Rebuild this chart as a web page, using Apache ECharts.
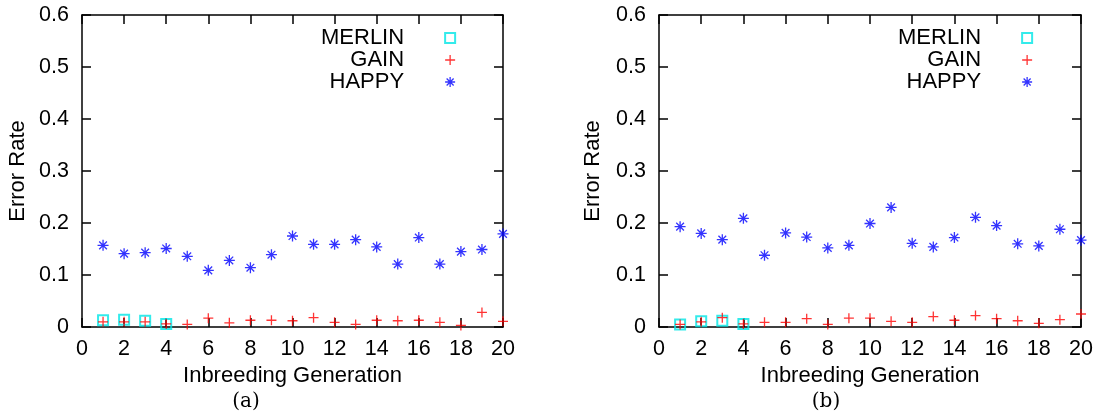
<!DOCTYPE html>
<html>
<head>
    <meta charset="utf-8">
    <title>Error Rate</title>
    <script src="https://cdn.jsdelivr.net/npm/echarts@6/dist/echarts.min.js"></script>
</head>
<body style="margin:0;background:#fff">
    <div id="main" style="width: 1099px;height:415px;"></div>
<script type="text/javascript">
    // generations 1..20
    var generations = [1, 2, 3, 4, 5, 6, 7, 8, 9, 10, 11, 12, 13, 14, 15, 16, 17, 18, 19, 20];
    var xTicks = [0, 2, 4, 6, 8, 10, 12, 14, 16, 18, 20];
    var yTicks = [0, 0.1, 0.2, 0.3, 0.4, 0.5, 0.6];

    // panel (a)
    var merlinA = [0.013, 0.014, 0.012, 0.006];
    var gainA = [0.010, 0.010, 0.010, 0.006, 0.005, 0.017, 0.008, 0.013, 0.013, 0.012,
                 0.018, 0.009, 0.005, 0.013, 0.012, 0.013, 0.009, 0.003, 0.028, 0.011];
    var happyA = [0.157, 0.141, 0.143, 0.151, 0.136, 0.109, 0.128, 0.114, 0.139, 0.175,
                  0.159, 0.159, 0.168, 0.154, 0.121, 0.172, 0.121, 0.145, 0.149, 0.179];
    // panel (b)
    var merlinB = [0.005, 0.011, 0.012, 0.006];
    var gainB = [0.005, 0.010, 0.018, 0.006, 0.009, 0.009, 0.016, 0.005, 0.017, 0.017,
                 0.011, 0.009, 0.020, 0.013, 0.022, 0.016, 0.012, 0.007, 0.014, 0.025];
    var happyB = [0.193, 0.180, 0.168, 0.209, 0.138, 0.181, 0.173, 0.152, 0.157, 0.199,
                  0.230, 0.161, 0.154, 0.172, 0.211, 0.195, 0.160, 0.156, 0.188, 0.167];

    var FONT = 'Liberation Sans';
    var PLUS = 'path://M0,5L10,5M5,0L5,10';
    var STAR = 'path://M0,5L10,5M5,0L5,10M1.5,1.5L8.5,8.5M1.5,8.5L8.5,1.5';

    var styles = {
        MERLIN: { symbol: 'rect', size: 10, itemStyle: { color: 'none', borderColor: '#00e6e6', borderWidth: 2 } },
        GAIN: { symbol: PLUS, size: 10, itemStyle: { color: 'none', borderColor: '#ff0000', borderWidth: 1.3 } },
        HAPPY: { symbol: STAR, size: 11, itemStyle: { color: 'none', borderColor: '#0000ff', borderWidth: 1.3 } }
    };

    function pairs(vals) {
        return vals.map(function (v, i) { return [generations[i], v]; });
    }

    var grids = [
        { left: 82, top: 15, width: 421, height: 312 },
        { left: 659, top: 15, width: 422, height: 312 }
    ];

    var xAxes = [], yAxes = [], series = [], legends = [];
    grids.forEach(function (g, gi) {
        var line = { show: true, onZero: false, lineStyle: { color: '#000', width: 1.5 } };
        var tick = { show: true, inside: true, length: 9, lineStyle: { color: '#000', width: 1.5 } };
        xAxes.push({
            type: 'value', gridIndex: gi, min: xTicks[0], max: xTicks[xTicks.length - 1], interval: 2,
            name: 'Inbreeding Generation', nameLocation: 'middle', nameGap: 30,
            nameTextStyle: { fontFamily: FONT, fontSize: 22, color: '#000' },
            axisLine: line, axisTick: tick, splitLine: { show: false },
            axisLabel: { fontFamily: FONT, fontSize: 21.5, color: '#000', margin: 11 }
        });
        xAxes.push({
            type: 'value', gridIndex: gi, position: 'top', min: 0, max: 20, interval: 2,
            axisLine: line, axisTick: tick, axisLabel: { show: false }, splitLine: { show: false }
        });
        yAxes.push({
            type: 'value', gridIndex: gi, min: yTicks[0], max: yTicks[yTicks.length - 1], interval: 0.1,
            name: 'Error Rate', nameLocation: 'middle', nameGap: gi === 0 ? 53 : 55,
            nameTextStyle: { fontFamily: FONT, fontSize: 22, color: '#000' },
            axisLine: line, axisTick: tick, splitLine: { show: false },
            axisLabel: { fontFamily: FONT, fontSize: 21.5, color: '#000', margin: 13 }
        });
        yAxes.push({
            type: 'value', gridIndex: gi, position: 'right', min: 0, max: 0.6, interval: 0.1,
            axisLine: line, axisTick: tick, axisLabel: { show: false }, splitLine: { show: false }
        });
    });

    var panels = [[merlinA, gainA, happyA], [merlinB, gainB, happyB]];
    var names = ['MERLIN', 'GAIN', 'HAPPY'];
    panels.forEach(function (p, pi) {
        names.forEach(function (n, si) {
            series.push({
                name: n, type: 'scatter', xAxisIndex: pi * 2, yAxisIndex: pi * 2,
                symbol: styles[n].symbol, symbolSize: styles[n].size, data: pairs(p[si]),
                itemStyle: styles[n].itemStyle
            });
        });
    });

    [{ left: 316 }, { left: 893 }].forEach(function (pos) {
        legends.push({
            orient: 'vertical', align: 'right', left: pos.left, top: 22, itemGap: 0,
            itemWidth: 10, itemHeight: 10,
            data: names.map(function (n) {
                return { name: n, icon: styles[n].symbol, itemStyle: styles[n].itemStyle };
            }),
            textStyle: { fontFamily: FONT, fontSize: 22, color: '#000', width: 90, align: 'right', padding: [0, 36, 0, 0] }
        });
    });

    var myChart = echarts.init(document.getElementById('main'));
    var option = {
        animation: false,
        backgroundColor: '#fff',
        grid: grids,
        xAxis: xAxes,
        yAxis: yAxes,
        legend: legends,
        series: series,
        graphic: [
            { type: 'text', x: 246, y: 402, style: { text: '(a)', font: '20px "DejaVu Serif"', fill: '#000', align: 'center', verticalAlign: 'middle' } },
            { type: 'text', x: 826, y: 402, style: { text: '(b)', font: '20px "DejaVu Serif"', fill: '#000', align: 'center', verticalAlign: 'middle' } }
        ]
    };
    myChart.setOption(option);
</script>
</body>
</html>
